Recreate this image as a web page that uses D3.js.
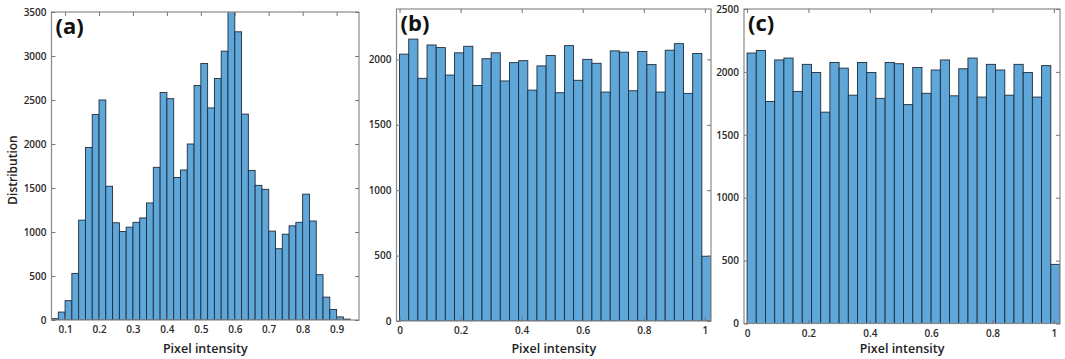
<!DOCTYPE html>
<html>
<head>
<meta charset="utf-8">
<script src="https://cdn.jsdelivr.net/npm/d3@7"></script>
<style>
	body { margin: 0; background: #fff; }
	svg { display: block; }
	text { font-family: "Open Sans", sans-serif; }
</style>
</head>
<body>
<div class="container"></div>
<script>

// panel (a): bins of 0.02 starting at 0.06
const binStartA = 0.06
const binWidthA = 0.02
const countsA = [15, 90, 220, 530, 1135, 1960, 2335, 2500, 1520, 1105,
	1005, 1055, 1110, 1160, 1330, 1735, 2585, 2515, 1620, 1705,
	2000, 2665, 2915, 2410, 2745, 3055, 3520, 3275, 2340, 1700,
	1530, 1485, 1010, 810, 975, 1070, 1110, 1430, 1125, 515,
	260, 120, 35, 10]

// panels (b) and (c): bins of 0.03 starting at 0
const binStartBC = 0
const binWidthBC = 0.03
const countsB = [2040, 2155, 1855, 2110, 2090, 1880, 2050, 2100, 1800, 2005,
	2050, 1835, 1975, 1990, 1765, 1950, 2030, 1745, 2105, 1840,
	2000, 1970, 1750, 2065, 2055, 1760, 2060, 1960, 1750, 2070,
	2120, 1740, 2045, 495]
const countsC = [2150, 2170, 1765, 2095, 2110, 1845, 2060, 1995, 1680, 2075,
	2030, 1815, 2075, 1995, 1790, 2075, 2065, 1740, 2035, 1830,
	2015, 2095, 1810, 2025, 2110, 1800, 2060, 2015, 1815, 2060,
	1995, 1800, 2050, 470]

const ticksXA = [0.1, 0.2, 0.3, 0.4, 0.5, 0.6, 0.7, 0.8, 0.9]
const ticksXBC = [0, 0.2, 0.4, 0.6, 0.8, 1]
const ticksYA = [0, 500, 1000, 1500, 2000, 2500, 3000, 3500]
const ticksYB = [0, 500, 1000, 1500, 2000]
const ticksYC = [0, 500, 1000, 1500, 2000, 2500]

const panels = [
	{ tag: '(a)', counts: countsA, start: binStartA, width: binWidthA, xDomain: [0.06, 0.966], yDomain: [0, 3500],
		left: 51.5, right: 359, top: 12, bottom: 320, xTicks: ticksXA, yTicks: ticksYA, fmt: d3.format('.1f') },
	{ tag: '(b)', counts: countsB, start: binStartBC, width: binWidthBC, xDomain: [-0.01, 1.02], yDomain: [0, 2385],
		left: 396.5, right: 711, top: 9, bottom: 321, xTicks: ticksXBC, yTicks: ticksYB, fmt: d3.format('~g') },
	{ tag: '(c)', counts: countsC, start: binStartBC, width: binWidthBC, xDomain: [-0.01, 1.02], yDomain: [0, 2500],
		left: 744, right: 1060, top: 9, bottom: 323.5, xTicks: ticksXBC, yTicks: ticksYC, fmt: d3.format('~g') }
]

let svg = d3.select('.container')
	.append('svg')
	.attr('width', 1065)
	.attr('height', 359)

svg.append('rect').attr('width', 1065).attr('height', 359).attr('fill', '#fff')

function drawPanel(p, i) {
	let x = d3.scaleLinear().domain(p.xDomain).range([p.left, p.right])
	let y = d3.scaleLinear().domain(p.yDomain).range([p.bottom, p.top])

	let clipId = 'clip' + i
	svg.append('clipPath').attr('id', clipId)
		.append('rect')
		.attr('x', p.left).attr('y', p.top)
		.attr('width', p.right - p.left).attr('height', p.bottom - p.top)

	let bins = p.counts.map((c, k) => ({ x0: p.start + k * p.width, x1: p.start + (k + 1) * p.width, n: c }))

	svg.append('g')
		.attr('clip-path', 'url(#' + clipId + ')')
		.selectAll('rect')
		.data(bins)
		.join('rect')
		.attr('x', d => x(d.x0))
		.attr('y', d => y(d.n))
		.attr('width', d => x(d.x1) - x(d.x0))
		.attr('height', d => y(0) - y(d.n))
		.attr('fill', '#5fa6d9')
		.attr('stroke', '#1e2e3d')
		.attr('stroke-width', 0.9)

	// box
	svg.append('rect')
		.attr('x', p.left).attr('y', p.top)
		.attr('width', p.right - p.left).attr('height', p.bottom - p.top)
		.attr('fill', 'none')
		.attr('stroke', '#8a8a8a')
		.attr('stroke-width', 1.2)

	let bottomAxis = svg.append('g')
		.attr('transform', 'translate(0,' + p.bottom + ')')
		.call(d3.axisBottom(x).tickValues(p.xTicks).tickFormat(p.fmt).tickSize(-4).tickPadding(6))
	let leftAxis = svg.append('g')
		.attr('transform', 'translate(' + p.left + ',0)')
		.call(d3.axisLeft(y).tickValues(p.yTicks).tickFormat(d3.format('d')).tickSize(-4).tickPadding(5))
	let topAxis = svg.append('g')
		.attr('transform', 'translate(0,' + p.top + ')')
		.call(d3.axisTop(x).tickValues(p.xTicks).tickFormat('').tickSize(-4))
	let rightAxis = svg.append('g')
		.attr('transform', 'translate(' + p.right + ',0)')
		.call(d3.axisRight(y).tickValues(p.yTicks).tickFormat('').tickSize(-4))

	for (let a of [bottomAxis, leftAxis, topAxis, rightAxis]) {
		a.select('.domain').remove()
		a.selectAll('.tick line').attr('stroke', '#777')
		a.selectAll('text')
			.attr('fill', '#2a2a2a')
			.style('font-size', '10px')
			.style('font-weight', 600)
	}

	svg.append('text')
		.attr('x', (p.left + p.right) / 2)
		.attr('y', 353)
		.attr('text-anchor', 'middle')
		.attr('fill', '#222')
		.style('font-size', '12.5px')
		.style('font-weight', 600)
		.text('Pixel intensity')

	svg.append('text')
		.attr('x', p.left + 4)
		.attr('y', p.top + 22)
		.attr('fill', '#111')
		.style('font-size', '22px')
		.style('font-weight', 700)
		.text(p.tag)
}

panels.forEach(drawPanel)

svg.append('text')
	.attr('transform', 'translate(17,170) rotate(-90)')
	.attr('text-anchor', 'middle')
	.attr('fill', '#222')
	.style('font-size', '12px')
	.style('font-weight', 600)
	.text('Distribution')

</script>
</body>
</html>
